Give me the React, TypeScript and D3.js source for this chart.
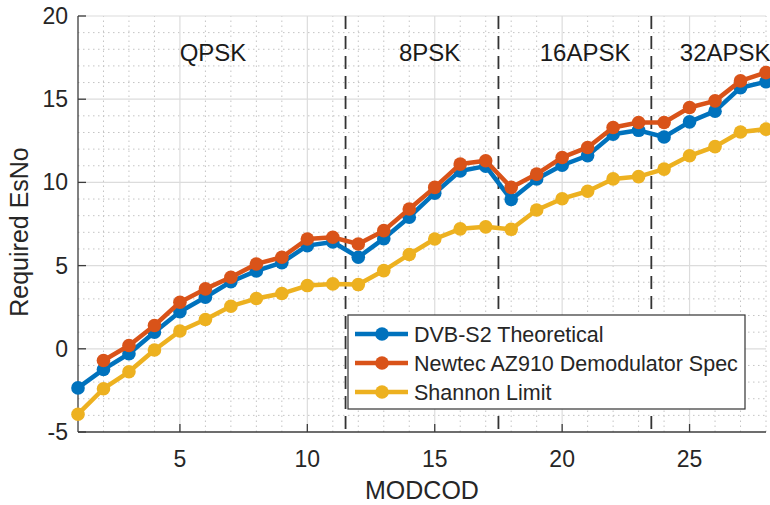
import React from 'react';
import * as d3 from 'd3';

// MODCOD index 1..28
const modcods = d3.range(1, 29);

const dvbS2 = [-2.35, -1.24, -0.3, 1.0, 2.23, 3.1, 4.03, 4.68, 5.18, 6.2, 6.42,
  5.5, 6.62, 7.91, 9.35, 10.69, 10.98,
  8.97, 10.21, 11.03, 11.61, 12.89, 13.13,
  12.73, 13.64, 14.28, 15.69, 16.05];

// no spec value for MODCOD 1
const newtec = [null, -0.7, 0.2, 1.4, 2.8, 3.6, 4.3, 5.1, 5.5, 6.6, 6.7,
  6.3, 7.1, 8.4, 9.7, 11.1, 11.3,
  9.7, 10.5, 11.5, 12.1, 13.3, 13.6,
  13.6, 14.5, 14.9, 16.1, 16.6];

const shannon = [-3.93, -2.4, -1.38, -0.07, 1.07, 1.76, 2.56, 3.02, 3.32, 3.8, 3.9,
  3.86, 4.7, 5.67, 6.6, 7.21, 7.33,
  7.18, 8.34, 9.02, 9.47, 10.21, 10.35,
  10.8, 11.6, 12.15, 13.03, 13.2];

const seriesNames = ['DVB-S2 Theoretical', 'Newtec AZ910 Demodulator Spec', 'Shannon Limit'];
const seriesColors = ['#0072BD', '#D95319', '#EDB120'];

const modulations = ['QPSK', '8PSK', '16APSK', '32APSK'];
const modulationLabelX = [6.3, 14.8, 20.9, 26.4];
const boundaries = [11.5, 17.5, 23.5];

const xTicks = [5, 10, 15, 20, 25];
const yTicks = [-5, 0, 5, 10, 15, 20];

const W = 770;
const H = 505;
const FONT = '"Liberation Sans", Arial, Helvetica, sans-serif';

const App = () => {
  const x = d3.scaleLinear().domain([1, 28]).range([78, 766]);
  const y = d3.scaleLinear().domain([-5, 20]).range([432, 16]);
  const [x0, x1] = x.range();
  const [y0, y1] = y.range();

  const all = [dvbS2, newtec, shannon];
  const line = d3.line<[number, number | null]>()
    .defined((d) => d[1] !== null)
    .x((d) => x(d[0]))
    .y((d) => y(d[1] as number));

  const minorX = d3.range(2, 29);
  const minorY = d3.range(-4, 20);

  return (
    <div>
      <style>{`body { margin: 0; }`}</style>
      <svg width={W} height={H} style={{ display: 'block', background: '#fff' }} fontFamily={FONT}>
        <defs>
          <clipPath id="plot">
            <rect x={x0 - 8} y={y1 - 8} width={x1 - x0 + 16} height={y0 - y1 + 16} />
          </clipPath>
        </defs>

        {/* minor grid */}
        <g stroke="#c4c4c4" strokeWidth={1} strokeDasharray="1.5,3.5">
          {minorX.filter((v) => v % 5 !== 0).map((v) => (
            <line key={'mx' + v} x1={x(v)} x2={x(v)} y1={y0} y2={y1} />
          ))}
          {minorY.filter((v) => v % 5 !== 0).map((v) => (
            <line key={'my' + v} x1={x0} x2={x1} y1={y(v)} y2={y(v)} />
          ))}
        </g>
        {/* major grid */}
        <g stroke="#dcdcdc" strokeWidth={1.2}>
          {xTicks.map((v) => (
            <line key={'gx' + v} x1={x(v)} x2={x(v)} y1={y0} y2={y1} />
          ))}
          {yTicks.filter((v) => v !== -5).map((v) => (
            <line key={'gy' + v} x1={x0} x2={x1} y1={y(v)} y2={y(v)} />
          ))}
        </g>

        {/* modulation boundaries */}
        <g stroke="#333" strokeWidth={1.8} strokeDasharray="13,7">
          {boundaries.map((b) => (
            <line key={'b' + b} x1={x(b)} x2={x(b)} y1={y1} y2={y0} />
          ))}
        </g>

        {/* modulation labels */}
        <g fontSize={24} fill="#1a1a1a" textAnchor="middle">
          {modulations.map((m, i) => (
            <text key={m} x={x(modulationLabelX[i])} y={61}>{m}</text>
          ))}
        </g>

        {/* axes */}
        <g stroke="#3c3c3c" strokeWidth={1.3} fill="none">
          <line x1={x0} x2={x0} y1={y0} y2={y1} />
          <line x1={x0} x2={x1} y1={y0} y2={y0} />
          {xTicks.map((v) => (
            <line key={'tx' + v} x1={x(v)} x2={x(v)} y1={y0} y2={y0 - 8} />
          ))}
          {yTicks.map((v) => (
            <line key={'ty' + v} x1={x0} x2={x0 + 8} y1={y(v)} y2={y(v)} />
          ))}
        </g>
        <g fontSize={23} fill="#262626">
          {yTicks.map((v) => (
            <text key={'ly' + v} x={x0 - 10} y={y(v) + 8} textAnchor="end">{v}</text>
          ))}
          {xTicks.map((v) => (
            <text key={'lx' + v} x={x(v)} y={467} textAnchor="middle">{v}</text>
          ))}
        </g>
        <text x={(x0 + x1) / 2} y={499} textAnchor="middle" fontSize={25} fill="#262626">MODCOD</text>
        <text transform={`translate(28, 232) rotate(-90)`} textAnchor="middle" fontSize={25} fill="#262626">Required EsNo</text>

        {/* series */}
        <g clipPath="url(#plot)">
          {all.map((s, i) => {
            const pts: [number, number | null][] = modcods.map((m, j) => [m, s[j]]);
            return (
              <g key={seriesNames[i]}>
                <path d={line(pts) || ''} fill="none" stroke={seriesColors[i]} strokeWidth={4.5} strokeLinejoin="round" />
                {pts.filter((p) => p[1] !== null).map((p) => (
                  <circle key={p[0]} cx={x(p[0])} cy={y(p[1] as number)} r={6.8} fill={seriesColors[i]} />
                ))}
              </g>
            );
          })}
        </g>

        {/* legend */}
        <g>
          <rect x={348} y={315} width={397} height={94} fill="#fff" stroke="#333" strokeWidth={1.2} />
          {seriesNames.map((n, i) => {
            const cy = 334 + i * 29;
            return (
              <g key={n}>
                <line x1={355} x2={408} y1={cy} y2={cy} stroke={seriesColors[i]} strokeWidth={4.5} />
                <circle cx={382} cy={cy} r={6.8} fill={seriesColors[i]} />
                <text x={414} y={cy + 7.5} fontSize={21.5} fill="#262626">{n}</text>
              </g>
            );
          })}
        </g>
      </svg>
    </div>
  );
};

export default App;
